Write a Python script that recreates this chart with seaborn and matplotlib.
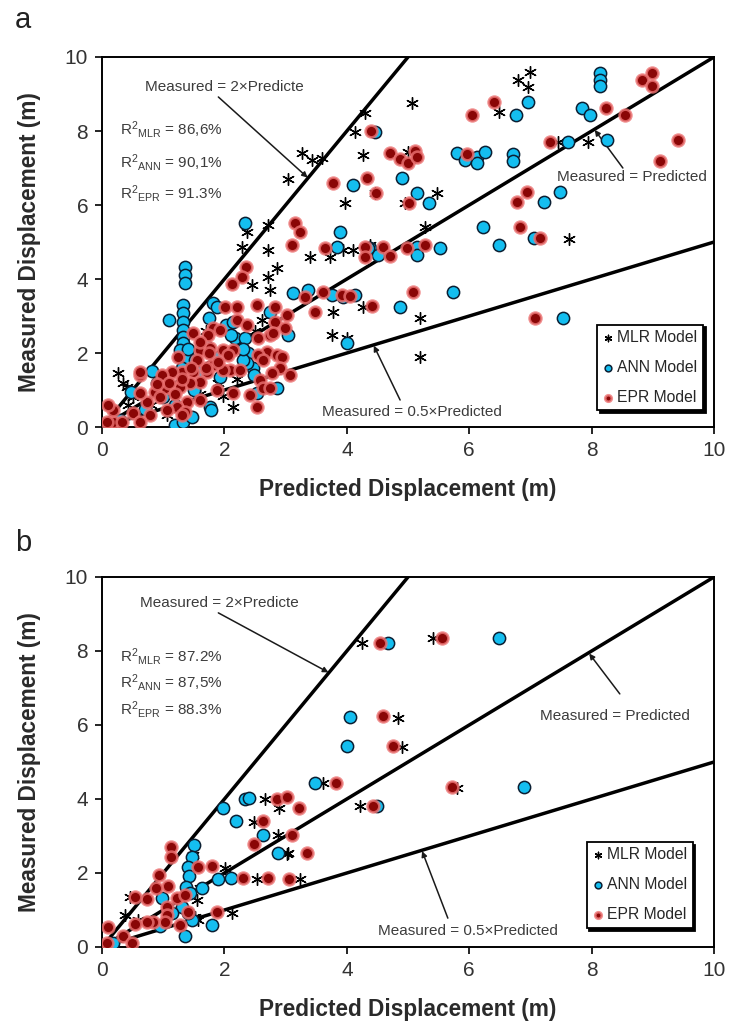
import matplotlib
matplotlib.use("Agg")
import matplotlib.pyplot as plt
import seaborn as sns

# ---------------- data: (predicted, measured) displacement in metres ----------------
# Panel a
a_mlr_pred = [6.99, 6.80, 6.96, 5.07, 6.49, 7.45, 7.94, 4.26, 5.00, 4.46, 4.95, 5.47, 5.28, 7.63,
              4.38, 5.20, 5.20, 4.30, 4.13, 3.27, 3.43, 3.59, 3.04, 3.97, 2.71, 2.37, 2.29, 2.71,
              3.40, 3.73, 3.94, 4.10, 2.86, 2.71, 2.45, 2.75, 3.77, 4.26, 0.26, 0.41, 2.14, 1.98,
              3.76, 4.00, 2.61, 0.00, 0.34, 1.06, 0.43, 0.50, 0.80, 1.10, 1.60, 2.20, 1.70, 2.50,
              0.60, 1.90, 5.11]
a_mlr_meas = [9.60, 9.38, 9.19, 8.76, 8.51, 7.70, 7.70, 7.35, 7.43, 6.32, 6.05, 6.32, 5.41, 5.08,
              4.92, 2.95, 1.89, 8.49, 7.97, 7.41, 7.22, 7.27, 6.70, 6.05, 5.46, 5.27, 4.86, 4.78,
              4.60, 4.60, 4.78, 4.78, 4.30, 4.05, 3.84, 3.70, 3.11, 3.24, 1.46, 1.08, 0.54, 0.84,
              2.49, 2.41, 2.89, 0.00, 1.20, 0.32, 0.60, 0.80, 0.60, 0.50, 0.90, 1.30, 2.60, 2.60,
              0.30, 1.20, 7.30]

a_ann_pred = [8.14, 8.14, 8.14, 6.96, 6.77, 7.84, 7.97, 7.61, 8.25, 5.80, 5.93, 6.13, 6.26, 6.13,
              6.72, 6.72, 4.90, 5.15, 5.34, 7.48, 7.22, 6.22, 6.49, 7.06, 5.52, 5.15, 5.15, 4.38,
              4.51, 5.74, 4.87, 7.53, 4.10, 3.89, 3.84, 2.34, 4.46, 4.35, 3.12, 3.37, 3.76, 4.13,
              3.94, 1.36, 1.36, 1.36, 1.33, 1.33, 1.33, 1.33, 1.10, 1.33, 1.33, 1.35, 1.82, 1.88,
              1.74, 2.75, 2.03, 2.17, 2.34, 2.39, 2.47, 2.48, 2.86, 3.04, 4.00, 0.81, 0.48, 1.76,
              1.78, 1.20, 1.33, 1.47, 1.93, 2.37, 2.30, 2.53, 1.41, 1.52, 1.27, 1.41, 0.70, 1.00,
              1.50, 1.60, 1.90, 1.30, 0.90, 0.30, 0.10, 1.20, 1.70, 2.10, 2.30, 2.14]
a_ann_meas = [9.57, 9.38, 9.22, 8.78, 8.43, 8.62, 8.43, 7.70, 7.76, 7.41, 7.22, 7.30, 7.43, 7.14,
              7.38, 7.19, 6.73, 6.32, 6.05, 6.35, 6.08, 5.41, 4.92, 5.10, 4.83, 4.87, 4.65, 4.84,
              4.65, 3.65, 3.24, 2.95, 6.54, 5.27, 4.87, 5.51, 7.97, 4.84, 3.62, 3.70, 3.57, 3.57,
              3.51, 4.32, 4.11, 3.89, 3.30, 3.08, 2.84, 2.62, 2.89, 2.43, 2.27, 2.03, 3.35, 3.24,
              2.95, 3.11, 2.76, 2.41, 2.41, 2.00, 1.59, 1.41, 1.05, 2.49, 2.27, 1.51, 0.95, 0.54,
              0.46, 0.05, 0.14, 0.27, 1.35, 1.73, 1.81, 0.92, 1.86, 1.81, 2.08, 2.10, 0.50, 0.80,
              1.00, 1.50, 1.90, 1.60, 1.20, 0.20, 0.10, 0.60, 2.20, 2.50, 2.10, 2.84]

a_epr_pred = [8.99, 8.82, 8.99, 6.41, 6.05, 8.24, 8.55, 7.32, 9.41, 9.12, 4.40, 4.71, 4.87, 5.00,
              5.11, 5.15, 5.96, 4.33, 4.48, 5.02, 6.94, 6.78, 6.83, 7.16, 4.59, 4.71, 4.98, 5.28,
              5.08, 4.41, 7.08, 3.78, 3.15, 3.24, 3.10, 3.64, 4.30, 4.30, 2.35, 2.29, 2.12, 3.32,
              3.61, 3.92, 4.05, 3.48, 2.53, 2.01, 2.20, 2.83, 3.02, 2.83, 2.20, 2.37, 2.99, 2.55,
              2.75, 2.80, 1.49, 1.81, 1.93, 1.73, 1.60, 1.76, 1.98, 2.14, 2.06, 1.24, 2.70, 2.86,
              2.94, 2.55, 2.63, 2.91, 3.07, 2.78, 2.58, 2.63, 2.75, 2.42, 2.53, 2.14, 1.88, 2.09,
              1.98, 2.25, 1.81, 1.72, 1.49, 1.31, 1.14, 0.98, 1.60, 1.44, 1.27, 1.03, 0.87, 1.60,
              1.39, 1.22, 1.06, 0.74, 0.62, 0.78, 1.36, 1.31, 0.62, 0.62, 0.51, 0.62, 0.18, 0.08,
              0.18, 0.10, 0.33, 1.60, 1.75, 1.90, 1.70, 1.55, 1.45, 1.30, 1.10, 0.90, 1.20, 0.95]
a_epr_meas = [9.57, 9.38, 9.22, 8.78, 8.43, 8.62, 8.43, 7.70, 7.76, 7.19, 8.00, 7.41, 7.24, 7.14,
              7.46, 7.30, 7.38, 6.73, 6.32, 6.05, 6.35, 6.08, 5.41, 5.11, 4.86, 4.62, 4.84, 4.92,
              3.65, 3.27, 2.95, 6.59, 5.51, 5.27, 4.92, 4.84, 4.86, 4.60, 4.32, 4.05, 3.86, 3.51,
              3.65, 3.57, 3.54, 3.11, 3.30, 3.24, 3.24, 3.24, 3.03, 2.84, 2.89, 2.76, 2.68, 2.41,
              2.49, 2.54, 2.54, 2.68, 2.62, 2.49, 2.08, 2.14, 2.08, 2.08, 1.95, 1.89, 2.03, 1.95,
              1.89, 1.95, 1.81, 1.59, 1.41, 1.46, 1.27, 1.05, 1.05, 0.86, 0.54, 0.92, 1.00, 1.54,
              1.54, 1.54, 1.68, 1.49, 1.49, 1.49, 1.49, 1.41, 1.22, 1.19, 1.08, 1.05, 0.95, 0.73,
              0.68, 0.54, 0.46, 0.68, 0.92, 0.32, 0.41, 0.32, 1.41, 1.49, 0.38, 0.14, 0.14, 0.14,
              0.46, 0.59, 0.14, 2.30, 2.00, 1.75, 1.60, 1.80, 1.60, 1.30, 1.20, 1.15, 0.90, 0.80]

# Panel b
b_mlr_pred = [4.25, 5.41, 4.84, 4.90, 5.80, 4.22, 3.61, 2.66, 2.89, 2.48, 2.88, 3.04, 2.53, 3.24,
              2.01, 2.12, 1.60, 1.55, 0.46, 0.38, 0.59, 1.52, 0.18, 1.49, 1.57, 3.02]
b_mlr_meas = [8.22, 8.35, 6.19, 5.41, 4.30, 3.81, 4.43, 4.00, 3.76, 3.38, 3.03, 2.54, 1.84, 1.84,
              2.14, 0.92, 1.59, 1.27, 1.35, 0.86, 0.73, 0.81, 0.05, 2.49, 0.73, 2.51]

b_ann_pred = [4.67, 6.49, 4.05, 4.00, 3.48, 6.90, 4.49, 2.34, 2.40, 1.98, 2.19, 2.63, 2.88, 1.90,
              2.11, 1.50, 1.47, 1.41, 1.42, 1.37, 1.44, 1.63, 0.98, 0.95, 1.80, 1.36, 1.47, 1.41,
              1.31, 1.14, 0.18]
b_ann_meas = [8.22, 8.35, 6.22, 5.43, 4.43, 4.32, 3.81, 4.00, 4.03, 3.76, 3.41, 3.03, 2.54, 1.84,
              1.86, 2.76, 2.43, 2.16, 1.92, 1.62, 1.46, 1.59, 1.32, 0.57, 0.59, 0.30, 0.73, 0.92,
              1.08, 0.92, 0.11]

b_epr_pred = [4.54, 5.56, 4.59, 4.75, 5.72, 4.43, 3.82, 2.86, 3.02, 3.22, 2.63, 3.10, 2.48, 3.35,
              2.30, 2.71, 3.06, 1.88, 1.13, 1.13, 1.57, 1.80, 0.93, 1.08, 0.88, 0.73, 0.54, 1.23,
              1.36, 1.06, 1.06, 1.03, 0.83, 0.73, 1.41, 1.27, 0.54, 0.10, 0.34, 0.49, 0.08]
b_epr_meas = [8.22, 8.35, 6.24, 5.43, 4.32, 3.81, 4.43, 4.00, 4.05, 3.76, 3.41, 3.03, 2.78, 2.54,
              1.86, 1.86, 1.84, 0.95, 2.70, 2.43, 2.16, 2.19, 1.95, 1.65, 1.59, 1.30, 1.35, 1.32,
              1.41, 1.08, 0.86, 0.68, 0.68, 0.68, 0.95, 0.59, 0.62, 0.54, 0.30, 0.11, 0.11]

# reference lines: measured = ratio * predicted
line_pred = [0, 10]
line_ratios = [2, 1, 0.5]

axis_ticks = [0, 2, 4, 6, 8, 10]
model_names = ["MLR Model", "ANN Model", "EPR Model"]

r2_a = [r"R$^{2}$$_{MLR}$ = 86,6%", r"R$^{2}$$_{ANN}$ = 90,1%", r"R$^{2}$$_{EPR}$ = 91.3%"]
r2_b = [r"R$^{2}$$_{MLR}$ = 87.2%", r"R$^{2}$$_{ANN}$ = 87,5%", r"R$^{2}$$_{EPR}$ = 88.3%"]

# ---------------- styling ----------------
sns.set_theme(style="white")
plt.rcParams["font.family"] = ["Liberation Sans", "DejaVu Sans"]
plt.rcParams["mathtext.default"] = "regular"

TEXT_GREY = "#3c3c3c"

fig = plt.figure(figsize=(7.29, 10.27), dpi=100)
ax_a = fig.add_axes([0.140, 0.5842, 0.8395, 0.3603])
ax_b = fig.add_axes([0.140, 0.0779, 0.8395, 0.3603])


def draw_panel(ax, mlr, ann, epr, r2_texts, r2_y, notes, legend_anchor):
    for ratio in line_ratios:
        sns.lineplot(x=line_pred, y=[ratio * v for v in line_pred], ax=ax,
                     color="black", linewidth=2.5, zorder=2)

    sns.scatterplot(x=mlr[0], y=mlr[1], ax=ax, marker=(6, 2, 0), s=72,
                    color="black", linewidth=1.0, label=model_names[0], zorder=3)
    sns.scatterplot(x=ann[0], y=ann[1], ax=ax, marker="o", s=78,
                    color="#14BEF0", edgecolor="#0b1f33", linewidth=1.1,
                    label=model_names[1], zorder=4)
    sns.scatterplot(x=epr[0], y=epr[1], ax=ax, marker="o", s=72,
                    color="#8a0606", edgecolor=(0.93, 0.45, 0.45, 0.8), linewidth=1.9,
                    label=model_names[2], zorder=5)

    ax.set_xlim(0, 10)
    ax.set_ylim(0, 10)
    ax.set_xticks(axis_ticks)
    ax.set_yticks(axis_ticks)
    ax.tick_params(axis="both", direction="out", length=5, width=1.2, color="black",
                   labelsize=15, labelcolor="#333333", pad=5,
                   bottom=True, left=True)
    for sp in ax.spines.values():
        sp.set_visible(True)
        sp.set_color("black")
        sp.set_linewidth(1.4)

    ax.set_xlabel("Predicted Displacement (m)", fontsize=16.3, fontweight="bold",
                  color="#2a2a2a", labelpad=13)
    ax.set_ylabel("Measured Displacement (m)", fontsize=16.3, fontweight="bold",
                  color="#2a2a2a", labelpad=17)

    # R-squared summary
    for txt, yv in zip(r2_texts, r2_y):
        ax.text(0.30, yv, txt, fontsize=11, color=TEXT_GREY, va="center", ha="left")

    # line annotations with arrows
    for label, txy, start, end in notes:
        ax.text(txy[0], txy[1], label, fontsize=11, color=TEXT_GREY, va="center", ha="left")
        ax.annotate("", xy=end, xytext=start,
                    arrowprops=dict(arrowstyle="-|>", color="#1a1a1a", lw=1.1,
                                    mutation_scale=8, shrinkA=0, shrinkB=0))

    handles, labels = ax.get_legend_handles_labels()
    ax.legend(handles, labels, loc="lower right", bbox_to_anchor=legend_anchor,
              fontsize=11.3, markerscale=0.55, frameon=True, fancybox=False,
              edgecolor="black", framealpha=1, borderpad=0.35, labelspacing=0.95,
              handlelength=0.7, handletextpad=0.25, borderaxespad=0,
              shadow={"facecolor": "black", "edgecolor": "black", "alpha": 1})
    ax.get_legend().get_frame().set_linewidth(1.3)


notes_a = [
    ("Measured = 2×Predicte", (0.70, 9.19), (1.90, 8.92), (3.36, 6.74)),
    ("Measured = Predicted", (7.43, 6.76), (8.51, 7.00), (8.05, 8.03)),
    ("Measured = 0.5×Predicted", (3.59, 0.41), (4.87, 0.73), (4.44, 2.20)),
]
notes_b = [
    ("Measured = 2×Predicte", (0.62, 9.30), (1.90, 9.03), (3.70, 7.42)),
    ("Measured = Predicted", (7.16, 6.24), (8.46, 6.84), (7.96, 7.93)),
    ("Measured = 0.5×Predicted", (4.51, 0.43), (5.65, 0.78), (5.23, 2.59)),
]

draw_panel(ax_a, (a_mlr_pred, a_mlr_meas), (a_ann_pred, a_ann_meas), (a_epr_pred, a_epr_meas),
           r2_a, [8.03, 7.16, 6.32], notes_a, (0.982, 0.045))
draw_panel(ax_b, (b_mlr_pred, b_mlr_meas), (b_ann_pred, b_ann_meas), (b_epr_pred, b_epr_meas),
           r2_b, [7.84, 7.14, 6.41], notes_b, (0.965, 0.052))

fig.text(15 / 729, 1 - 28 / 1027, "a", fontsize=21, color="#222222", va="baseline")
fig.text(15 / 729, 1 - 551 / 1027, "b", fontsize=21, color="#222222", va="baseline")

fig.savefig("out.png", dpi=100, facecolor="white")
